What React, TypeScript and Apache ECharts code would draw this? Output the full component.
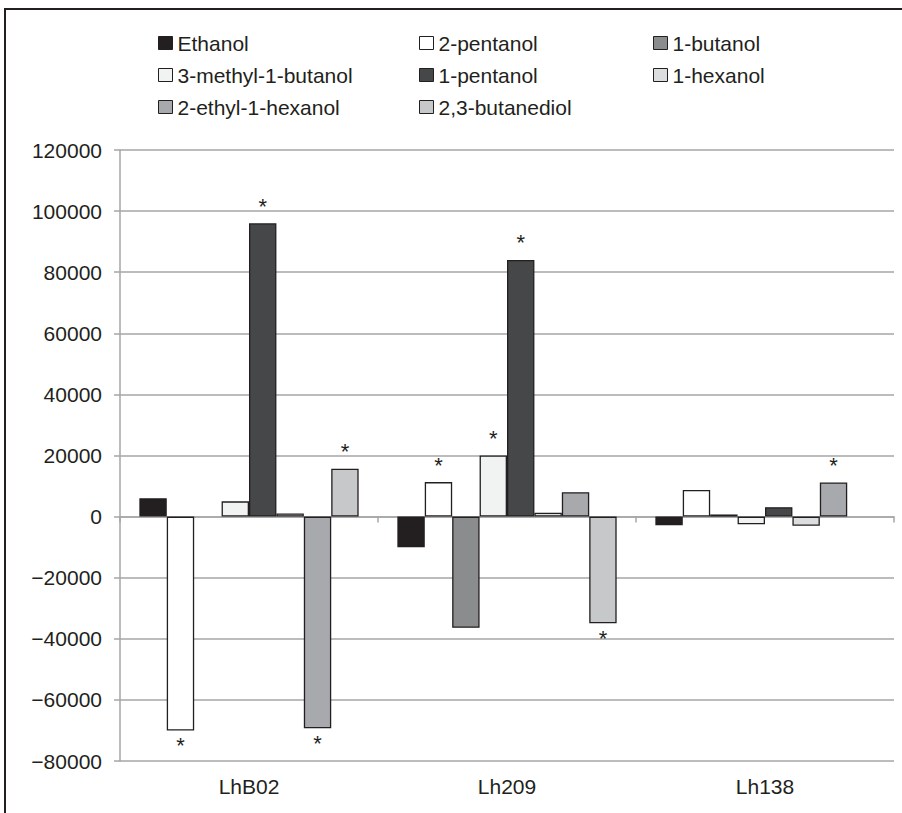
import React, { useEffect, useRef } from "react";
import * as echarts from "echarts";

const categories = ["LhB02", "Lh209", "Lh138"];

const seriesNames = [
  "Ethanol",
  "2-pentanol",
  "1-butanol",
  "3-methyl-1-butanol",
  "1-pentanol",
  "1-hexanol",
  "2-ethyl-1-hexanol",
  "2,3-butanediol",
];

// null = no visible bar (value ~0)
const ethanol = [6000, -10000, -2800];
const pentanol2 = [-70000, 11300, 8700];
const butanol1 = [null, -36400, 700];
const methylButanol = [5000, 20000, -2500];
const pentanol1 = [96000, 84000, 3100];
const hexanol1 = [1000, 1300, -3000];
const ethylHexanol = [-69300, 8000, 11200];
const butanediol = [15700, -34900, null];

const seriesValues: (number | null)[][] = [ethanol, pentanol2, butanol1, methylButanol, pentanol1, hexanol1, ethylHexanol, butanediol];

// significance markers (asterisks)
const sigEthanol = [false, false, false];
const sigPentanol2 = [true, true, false];
const sigButanol1 = [false, false, false];
const sigMethylButanol = [false, true, false];
const sigPentanol1 = [true, true, false];
const sigHexanol1 = [false, false, false];
const sigEthylHexanol = [true, false, true];
const sigButanediol = [true, true, false];

const seriesSig = [sigEthanol, sigPentanol2, sigButanol1, sigMethylButanol, sigPentanol1, sigHexanol1, sigEthylHexanol, sigButanediol];

const colors = ["#231f20", "#ffffff", "#8b8c8e", "#f1f2f2", "#464749", "#dcddde", "#a7a9ac", "#c7c8ca"];

const legendCols = [
  ["Ethanol", "3-methyl-1-butanol", "2-ethyl-1-hexanol"],
  ["2-pentanol", "1-pentanol", "2,3-butanediol"],
  ["1-butanol", "1-hexanol"],
];

const yTicksMin = -80000;
const yTicksMax = 120000;
const yTicksInterval = 20000;

const FONT = "'Liberation Sans', Arial, Helvetica, sans-serif";
const TEXT = "#231f20";
const GRID = "#a6a6a6";

export default function App() {
  const ref = useRef<HTMLDivElement>(null);
  useEffect(() => {
    document.body.style.margin = "0";
    if (!ref.current) return;
    const chart = echarts.init(ref.current, null, { renderer: "svg" });
    const legendLefts = [158, 419, 653];
    const option: any = {
      animation: false,
      backgroundColor: "#ffffff",
      textStyle: { fontFamily: FONT },
      graphic: [
        {
          type: "rect",
          shape: { x: 5, y: 9, width: 940, height: 900 },
          style: { fill: "none", stroke: TEXT, lineWidth: 2 },
          silent: true,
        },
      ],
      legend: legendCols.map((col, i) => ({
        data: col,
        orient: "vertical",
        left: legendLefts[i],
        top: 31,
        padding: 0,
        itemGap: 8,
        itemWidth: 14,
        itemHeight: 13,
        icon: "rect",
        selectedMode: false,
        itemStyle: { borderColor: TEXT, borderWidth: 1 },
        textStyle: { fontFamily: FONT, fontSize: 21, color: TEXT, lineHeight: 24 },
      })),
      grid: { left: 120, top: 150, width: 774, height: 611, containLabel: false },
      xAxis: [
        {
          type: "category",
          data: categories,
          position: "bottom",
          axisLine: { onZero: true, lineStyle: { color: GRID, width: 1.5 } },
          axisTick: { show: true, length: 6, lineStyle: { color: GRID, width: 1.5 } },
          axisLabel: { show: false },
          splitLine: { show: false },
        },
        {
          type: "category",
          data: categories,
          position: "bottom",
          axisLine: { show: false, onZero: false },
          axisTick: { show: false },
          axisLabel: { show: true, margin: 15, fontFamily: FONT, fontSize: 21, color: TEXT },
          splitLine: { show: false },
        },
      ],
      yAxis: {
        type: "value",
        min: yTicksMin,
        max: yTicksMax,
        interval: yTicksInterval,
        axisLine: { show: true, lineStyle: { color: GRID, width: 1.5 } },
        axisTick: { show: true, length: 6, lineStyle: { color: GRID, width: 1.5 } },
        splitLine: { show: true, lineStyle: { color: GRID, width: 1.5 } },
        axisLabel: {
          margin: 18,
          fontFamily: FONT,
          fontSize: 21,
          color: TEXT,
          formatter: (v: number) => (v < 0 ? "\u2212" + Math.abs(v) : String(v)),
        },
      },
      series: seriesNames.map((name, si) => ({
        name,
        type: "bar",
        xAxisIndex: 0,
        barGap: "0%",
        barCategoryGap: "15%",
        itemStyle: { color: colors[si], borderColor: TEXT, borderWidth: 1.3 },
        data: seriesValues[si].map((v, ci) => ({
          value: v,
          label: {
            show: seriesSig[si][ci],
            position: (v ?? 0) >= 0 ? "top" : "bottom",
            distance: (v ?? 0) >= 0 ? 6 : 4,
            formatter: "*",
            fontFamily: FONT,
            fontSize: 22,
            color: TEXT,
          },
        })),
      })),
    };
    chart.setOption(option);
    return () => chart.dispose();
  }, []);
  return <div ref={ref} style={{ width: 902, height: 813 }} />;
}
